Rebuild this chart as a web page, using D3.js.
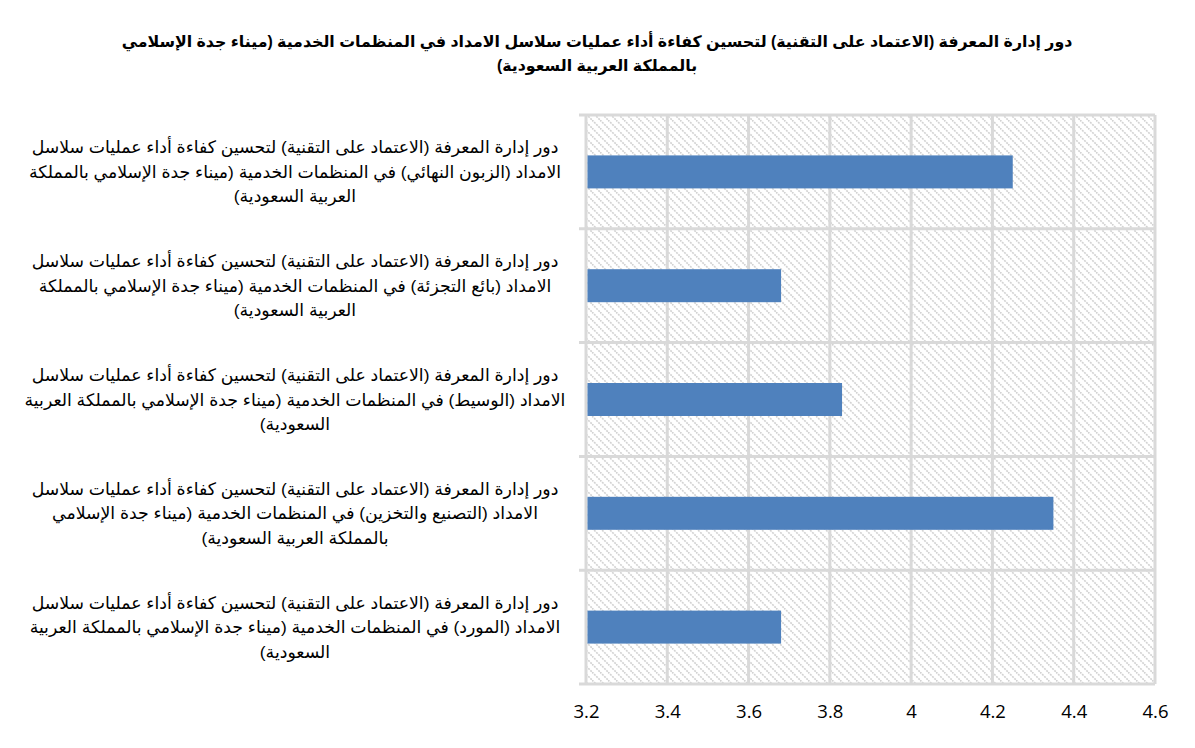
<!DOCTYPE html>
<html>
<head>
<meta charset="utf-8">
<script src="https://cdn.jsdelivr.net/npm/d3@7"></script>
<style>
  body { margin: 0; background: #fff; }
  text { font-family: "Liberation Sans", "DejaVu Sans", Arial, sans-serif; }
</style>
</head>
<body>
<div id="chart"></div>
<script>
// Chart data (top to bottom as drawn)
const TITLE_LINES = [
  "دور إدارة المعرفة (الاعتماد على التقنية) لتحسين كفاءة أداء عمليات سلاسل الامداد في المنظمات الخدمية (ميناء جدة الإسلامي",
  "بالمملكة العربية السعودية)"
];
const categories = [
  ["دور إدارة المعرفة (الاعتماد على التقنية) لتحسين كفاءة أداء عمليات سلاسل",
   "الامداد (الزبون النهائي) في المنظمات الخدمية (ميناء جدة الإسلامي بالمملكة",
   "العربية السعودية)"],
  ["دور إدارة المعرفة (الاعتماد على التقنية) لتحسين كفاءة أداء عمليات سلاسل",
   "الامداد (بائع التجزئة) في المنظمات الخدمية (ميناء جدة الإسلامي بالمملكة",
   "العربية السعودية)"],
  ["دور إدارة المعرفة (الاعتماد على التقنية) لتحسين كفاءة أداء عمليات سلاسل",
   "الامداد (الوسيط) في المنظمات الخدمية (ميناء جدة الإسلامي بالمملكة العربية",
   "السعودية)"],
  ["دور إدارة المعرفة (الاعتماد على التقنية) لتحسين كفاءة أداء عمليات سلاسل",
   "الامداد (التصنيع والتخزين) في المنظمات الخدمية (ميناء جدة الإسلامي",
   "بالمملكة العربية السعودية)"],
  ["دور إدارة المعرفة (الاعتماد على التقنية) لتحسين كفاءة أداء عمليات سلاسل",
   "الامداد (المورد) في المنظمات الخدمية (ميناء جدة الإسلامي بالمملكة العربية",
   "السعودية)"]
];
const values = [4.25, 3.68, 3.83, 4.35, 3.68];
const xTicks = [3.2, 3.4, 3.6, 3.8, 4, 4.2, 4.4, 4.6];

const WIDTH = 1195;
const HEIGHT = 748;
const plot = { left: 586, right: 1155, top: 115, bottom: 684 };
const GRID = "#d9d9d9";
const BAR = "#4f81bd";

const svg = d3.select("#chart")
  .append("svg")
  .attr("width", WIDTH)
  .attr("height", HEIGHT);

// Hatched plot background
const pat = svg.append("defs").append("pattern")
  .attr("id", "hatch")
  .attr("patternUnits", "userSpaceOnUse")
  .attr("width", 8)
  .attr("height", 8);
pat.append("rect").attr("width", 8).attr("height", 8).attr("fill", "#fff");
pat.append("path")
  .attr("d", "M0,0 L8,8 M-4,4 L4,12 M4,-4 L12,4")
  .attr("stroke", "#d2d2d2")
  .attr("stroke-width", 1.6)
  .attr("stroke-dasharray", "2,1");

const x = d3.scaleLinear()
  .domain([xTicks[0], xTicks[xTicks.length - 1]])
  .range([plot.left, plot.right]);

const y = d3.scaleBand()
  .domain(d3.range(categories.length))
  .range([plot.top, plot.bottom])
  .paddingInner(0.71)
  .paddingOuter(0.355);

const band = (plot.bottom - plot.top) / categories.length;

svg.append("rect")
  .attr("x", plot.left)
  .attr("y", plot.top)
  .attr("width", plot.right - plot.left)
  .attr("height", plot.bottom - plot.top)
  .attr("fill", "url(#hatch)");

// Vertical gridlines
svg.append("g")
  .selectAll("line")
  .data(xTicks)
  .join("line")
  .attr("x1", d => x(d))
  .attr("x2", d => x(d))
  .attr("y1", plot.top)
  .attr("y2", plot.bottom)
  .attr("stroke", GRID)
  .attr("stroke-width", 3);

// Horizontal category boundaries (with small ticks to the left)
svg.append("g")
  .selectAll("line")
  .data(d3.range(categories.length + 1))
  .join("line")
  .attr("x1", plot.left - 7)
  .attr("x2", plot.right)
  .attr("y1", i => plot.top + i * band)
  .attr("y2", i => plot.top + i * band)
  .attr("stroke", GRID)
  .attr("stroke-width", 3);

// Bars
svg.append("g")
  .selectAll("rect")
  .data(values)
  .join("rect")
  .attr("x", x(xTicks[0]) + 1.5)
  .attr("y", (d, i) => y(i))
  .attr("width", d => x(d) - x(xTicks[0]) - 1.5)
  .attr("height", y.bandwidth())
  .attr("fill", BAR);

// X axis labels
const xAxis = d3.axisBottom(x)
  .tickValues(xTicks)
  .tickSize(0)
  .tickPadding(21)
  .tickFormat(d3.format("~g"));

svg.append("g")
  .attr("transform", `translate(0,${plot.bottom})`)
  .call(xAxis)
  .call(g => g.select(".domain").remove())
  .selectAll("text")
  .attr("fill", "#000")
  .style("font-family", "'Open Sans', 'Liberation Sans', sans-serif")
  .style("font-size", "18.5px");

// Category labels
const labelX = 295;
const lineH = 24.5;
svg.append("g")
  .selectAll("text")
  .data(categories)
  .join("text")
  .attr("direction", "rtl")
  .attr("text-anchor", "middle")
  .attr("font-size", 17.3)
  .attr("fill", "#000")
  .each(function (lines, i) {
    const cy = y(i) + y.bandwidth() / 2;
    const y0 = cy - (lines.length - 1) * lineH / 2;
    d3.select(this).selectAll("tspan")
      .data(lines)
      .join("tspan")
      .attr("x", labelX)
      .attr("y", (l, j) => y0 + j * lineH)
      .attr("dy", "0.35em")
      .text(l => l);
  });

// Title
svg.append("text")
  .attr("direction", "rtl")
  .attr("text-anchor", "middle")
  .attr("font-size", 15.8)
  .attr("font-weight", "bold")
  .attr("fill", "#000")
  .selectAll("tspan")
  .data(TITLE_LINES)
  .join("tspan")
  .attr("x", 597)
  .attr("y", (d, i) => 41 + i * 24)
  .attr("dy", "0.35em")
  .text(d => d);
</script>
</body>
</html>
